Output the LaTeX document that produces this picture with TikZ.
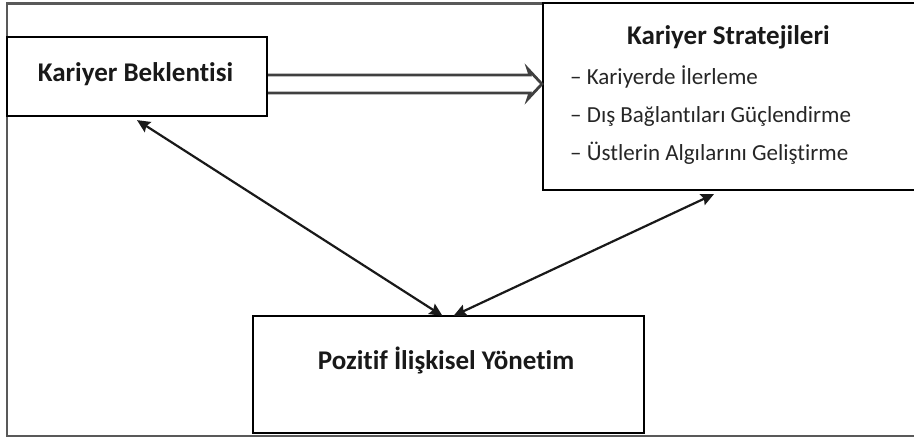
\documentclass[tikz,border=0pt]{standalone}
\usepackage{fontspec}
\setmainfont{Carlito}[Ligatures=NoCommon]
\usepackage{tikz}
\usetikzlibrary{arrows.meta, positioning, calc}
\tikzset{
  % boxes and texts
  frame/.style={draw=black!65, line width=2.4pt},
  box/.style={rectangle, draw=black, line width=2.2pt, fill=white, inner sep=0pt},
  title/.style={font=\fontsize{27}{32}\selectfont\bfseries, text=black!90, inner sep=0pt},
  item/.style={font=\fontsize{23}{28}\selectfont, text=black!85, inner sep=0pt, anchor=base west},
  % connectors
  link/.style={{Stealth[length=13pt, width=12pt, inset=2pt]}-{Stealth[length=13pt, width=12pt, inset=2pt]}, line width=2.2pt, black!90},
  flow/.style={line width=2.8pt, draw=black!75, line join=miter},
}
\begin{document}
\begin{tikzpicture}[x=1pt, y=-1pt]
    \useasboundingbox (0,0) rectangle (914,439);
    % Outer frame (right side runs off the page)
    \draw[frame] (930,3.5) -- (7,3.5) -- (7,436) -- (930,436);

    % Boxes
    \node[box, minimum width=260pt, minimum height=79pt] (kb) at (137,76.5) {};
    \node[box, minimum width=382pt, minimum height=187pt] (ks) at (734,96.5) {};
    \node[box, minimum width=391pt, minimum height=117pt] (piy) at (448.5,374.5) {};

    % Texts
    \node[title, anchor=base] (kbT) at (135.5,81) {Kariyer Beklentisi};
    \node[title, anchor=base] (ksT) at (728.5,45) {Kariyer Stratejileri};
    \node[item] (ks1) at (570,84) {– Kariyerde İlerleme};
    \node[item] (ks2) at (570,122) {– Dış Bağlantıları Güçlendirme};
    \node[item] (ks3) at (570,160) {– Üstlerin Algılarını Geliştirme};
    \node[title, anchor=base] (piyT) at (446,369) {Pozitif İlişkisel Yönetim};

    % Open double arrow
    \coordinate (tip) at ([yshift=-7.5pt]kb.east -| ks.west);
    \draw[flow] ([yshift=1.5pt]kb.east) -- ($(tip)+(-12,-9)$) -- ($(tip)+(-14,-15)$)
      -- (tip) -- ($(tip)+(-14,15)$) -- ($(tip)+(-12,9)$) -- ([yshift=-16.5pt]kb.east);

    % Arrows
    \draw[link] ([yshift=-3pt]kb.south) -- ([xshift=-6pt, yshift=-1pt]piy.north);
    \draw[link] ([xshift=5pt, yshift=-1pt]piy.north) -- ([xshift=-20pt, yshift=-3pt]ks.south);
\end{tikzpicture}
\end{document}
